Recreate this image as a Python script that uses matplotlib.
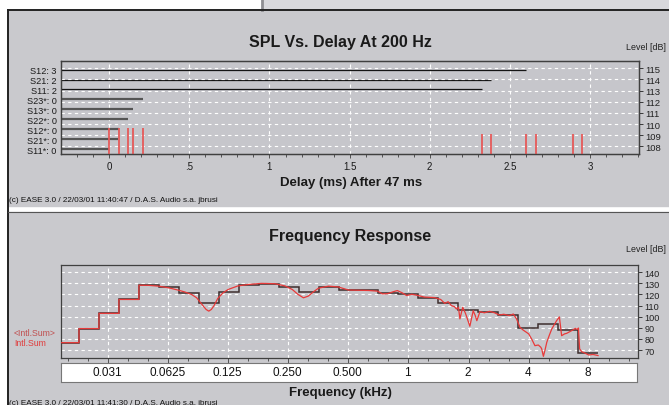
import numpy as np
import matplotlib.pyplot as plt
from matplotlib.patches import Rectangle
from matplotlib.lines import Line2D

plt.rcParams['font.family'] = ['Liberation Sans', 'DejaVu Sans']

W, H = 669, 406

# --- top chart: SPL vs delay at 200 Hz
row_labels = ["S11*: 0", "S21*: 0", "S12*: 0", "S22*: 0", "S13*: 0",
              "S23*: 0", "S11: 2", "S21: 2", "S12: 3"]
row_delay = [0.0, 0.056, 0.062, 0.12, 0.15, 0.208, 2.325, 2.383, 2.60]
arrival_delay = [0.0, 0.06, 0.12, 0.15, 0.208, 2.325, 2.383, 2.60, 2.662, 2.893, 2.951]
arrival_level = [109.6, 109.6, 109.6, 109.6, 109.6, 109.1, 109.1, 109.1, 109.1, 109.1, 109.1]
delay_ticks = [0, 0.5, 1, 1.5, 2, 2.5, 3]
delay_labels = ["0", ".5", "1", "1.5", "2", "2.5", "3"]
level_ticks = [108, 109, 110, 111, 112, 113, 114, 115]

# --- bottom chart: frequency response (kHz, dB)
band_edges = [0.0178, 0.0224, 0.0282, 0.0355, 0.0447, 0.0562, 0.0708, 0.0891,
              0.112, 0.141, 0.178, 0.224, 0.282, 0.355, 0.447, 0.562, 0.708,
              0.891, 1.122, 1.413, 1.778, 2.239, 2.818, 3.548, 4.467, 5.623,
              7.079, 8.913]
band_level = [76.6, 89.3, 103.0, 115.5, 128.3, 126.6, 121.0, 112.0, 122.5,
              128.3, 129.8, 126.7, 122.3, 127.0, 123.6, 124.0, 121.3, 120.1,
              117.0, 112.0, 105.8, 104.3, 101.5, 89.5, 93.7, 88.2, 67.3]
red_f = [0.0178, 0.0224, 0.0224, 0.0282, 0.0282, 0.0355, 0.0355, 0.0447, 0.0447,
         0.050, 0.056, 0.063, 0.070, 0.076, 0.082, 0.087, 0.092, 0.097, 0.100,
         0.103, 0.106, 0.111, 0.118, 0.125, 0.140, 0.158, 0.184, 0.214, 0.241,
         0.262, 0.280, 0.298, 0.315, 0.335, 0.354, 0.397, 0.445, 0.500, 0.560,
         0.630, 0.700, 0.740, 0.790, 0.840, 0.880, 0.930, 0.980, 1.04, 1.12,
         1.20, 1.35, 1.45, 1.52, 1.58, 1.64, 1.70, 1.74, 1.78, 1.81, 1.87,
         1.93, 1.96, 2.03, 2.11, 2.16, 2.20, 2.28, 2.40, 2.55, 2.70, 2.85,
         3.00, 3.20, 3.35, 3.48, 3.62, 3.75, 3.90, 4.00, 4.14, 4.30, 4.47,
         4.60, 4.65, 4.74, 4.83, 4.93, 5.08, 5.22, 5.40, 5.52, 5.70, 5.85,
         6.05, 6.20, 6.50, 6.70, 6.85, 6.98, 7.10, 7.20, 7.37, 7.60, 8.00,
         8.40, 8.90]
red_db = [76.6, 76.6, 89.3, 89.3, 103.0, 103.0, 115.5, 115.5, 128.3,
          128.2, 127.5, 126.0, 124.0, 122.2, 120.0, 117.0, 111.5, 106.5, 105.0,
          106.5, 109.6, 116.5, 121.5, 124.5, 127.7, 129.0, 130.0, 129.7, 127.7,
          124.5, 120.0, 117.0, 118.5, 122.5, 125.6, 127.5, 126.8, 124.0, 123.8,
          123.6, 123.0, 120.5, 120.8, 122.5, 123.5, 121.5, 119.0, 120.2, 119.0,
          117.7, 117.2, 115.5, 112.0, 113.5, 110.0, 109.0, 106.9, 108.5, 98.0, 108.5,
          103.0, 99.5, 91.4, 105.4, 101.0, 96.4, 104.5, 103.5, 104.8, 103.5, 101.5,
          102.2, 101.0, 102.4, 97.9, 90.4, 88.0, 85.9, 84.5, 79.9, 73.9, 74.5,
          72.5, 70.9, 64.3, 70.0, 77.0, 83.5, 88.9, 93.5, 96.4, 99.8, 82.9,
          84.5, 85.0, 87.0, 88.3, 89.5, 88.5, 89.8, 71.0, 68.5, 67.5, 65.5,
          66.0, 65.0]
oct_ticks = [0.03125, 0.0625, 0.125, 0.25, 0.5, 1, 2, 4, 8]
oct_labels = ["0.031", "0.0625", "0.125", "0.250", "0.500", "1", "2", "4", "8"]
db_ticks = [70, 80, 90, 100, 110, 120, 130, 140]

panel = '#c9c9cd'
plotbg = '#c6c6cb'
edge = '#404040'
grid_kw = dict(color='white', linestyle=(0, (3, 3)), linewidth=0.8)


def fx(px):
    return px / W


def fy(py):
    return 1 - py / H


def box(x0, y0, x1, y1):
    return [fx(x0), fy(y1), (x1 - x0) / W, (y1 - y0) / H]


fig = plt.figure(figsize=(W / 100, H / 100), dpi=100, facecolor='white')

# window chrome
fig.patches.append(Rectangle((fx(262), fy(11)), 1 - fx(262), 11 / H,
                             transform=fig.transFigure, color='#d8d8dc', zorder=-2))
fig.patches.append(Rectangle((fx(8), fy(207)), 1 - fx(8), 196 / H,
                             transform=fig.transFigure, color=panel, zorder=-2))
fig.patches.append(Rectangle((fx(8), 0), 1 - fx(8), fy(213),
                             transform=fig.transFigure, color=panel, zorder=-2))
for xs, ys, c, lw in [([fx(262), fx(262)], [fy(0), fy(11)], '#8e8e92', 2.0),
                      ([fx(8), fx(8)], [0, fy(11)], '#222222', 1.4),
                      ([fx(8), 1], [fy(11), fy(11)], '#222222', 1.4),
                      ([fx(8), 1], [fy(213), fy(213)], '#555555', 0.8)]:
    fig.lines.append(Line2D(xs, ys, transform=fig.transFigure, color=c, lw=lw, zorder=-1))

# ---------------- top chart
ax1 = fig.add_axes(box(61, 61.7, 639, 155))
ax1.set_facecolor(plotbg)
ax1.set_xlim(-0.301, 3.306)
ax1.set_ylim(-0.5, 8.9)
ax1.set_xticks(delay_ticks)
ax1.set_xticklabels(delay_labels, fontsize=7)
ax1.set_xticks(np.arange(-0.2, 3.31, 0.1), minor=True)
ax1.tick_params(axis='x', which='major', length=3, width=0.6, pad=2, colors=edge,
                labelcolor='#1a1a1a')
ax1.tick_params(axis='x', which='minor', length=2, width=0.6, colors=edge)
ax1.set_yticks(range(len(row_labels)))
ax1.set_yticklabels(row_labels, fontsize=6.6, color='#1a1a1a')
ax1.tick_params(axis='y', length=0, pad=3)
ax1.grid(axis='x', **grid_kw)
ax1.set_axisbelow(True)
x0 = ax1.get_xlim()[0]
for i, (lab, d) in enumerate(zip(row_labels, row_delay)):
    main = '*' not in lab
    ax1.hlines(i, x0, d, color='#151515' if main else '#555555',
               lw=0.9 if main else 1.6, zorder=3)
for s in ax1.spines.values():
    s.set_color(edge)
    s.set_linewidth(0.9)

ax2 = ax1.twinx()
ax2.set_ylim(107.31, 115.68)
ax2.set_yticks(level_ticks)
ax2.tick_params(axis='y', labelsize=6.8, length=3, width=0.6, pad=1.5, colors='#222222')
ax2.grid(axis='y', **grid_kw)
ax2.vlines(arrival_delay, ax2.get_ylim()[0], arrival_level, color='#e65a5a', lw=1.3)
for s in ax2.spines.values():
    s.set_color(edge)
    s.set_linewidth(0.9)

fig.text(fx(340), fy(43), "SPL Vs. Delay At 200 Hz", ha='center', va='center',
         fontsize=11.5, fontweight='bold', color='#1a1a1a')
fig.text(fx(646), fy(47), "Level [dB]", ha='center', va='center', fontsize=6.4, color='#222222')
fig.text(fx(351), fy(183), "Delay (ms) After 47 ms", ha='center', va='center',
         fontsize=9.5, fontweight='bold', color='#1a1a1a')
fig.text(fx(9), fy(200), "(c) EASE 3.0 / 22/03/01 11:40:47 / D.A.S. Audio s.a. jbrusi",
         ha='left', va='center', fontsize=5.9, color='#111111')

# ---------------- bottom chart
ax3 = fig.add_axes(box(61, 265.7, 638.3, 359))
ax3.set_facecolor(plotbg)
ax3.set_xscale('log', base=2)
ax3.set_xlim(0.0182, 14.16)
ax3.set_ylim(62.8, 146.8)
ax3.set_xticks(oct_ticks)
ax3.set_xticklabels([])
ax3.set_xticks([f * 2 ** (k / 3) for f in [0.015625] + oct_ticks for k in (1, 2)], minor=True)
ax3.xaxis.set_minor_formatter(plt.NullFormatter())
ax3.tick_params(axis='x', which='major', length=3.5, width=0.6, colors=edge)
ax3.tick_params(axis='x', which='minor', length=2, width=0.6, colors=edge)
ax3.yaxis.tick_right()
ax3.set_yticks(db_ticks)
ax3.tick_params(axis='y', labelsize=6.6, length=3, width=0.6, pad=1.5, colors='#222222')
ax3.grid(axis='both', which='major', **grid_kw)
ax3.set_axisbelow(True)
ax3.stairs(band_level, band_edges, baseline=None, color='#3e2e2e', lw=1.1, zorder=3)
ax3.plot(red_f, red_db, color='#e83a3a', lw=0.9, zorder=4)
for s in ax3.spines.values():
    s.set_color(edge)
    s.set_linewidth(0.9)

ax4 = fig.add_axes(box(61, 364, 637, 382.7))
ax4.set_facecolor('white')
ax4.set_xscale('log', base=2)
ax4.set_xlim(ax3.get_xlim())
ax4.set_xticks([])
ax4.set_yticks([])
ax4.minorticks_off()
for s in ax4.spines.values():
    s.set_color('#777777')
    s.set_linewidth(0.8)
for f, lab in zip(oct_ticks, oct_labels):
    ax4.text(f, 0.5, lab, transform=ax4.get_xaxis_transform(), ha='center',
             va='center', fontsize=8.5, color='#111111')

fig.text(fx(350), fy(237), "Frequency Response", ha='center', va='center',
         fontsize=11.5, fontweight='bold', color='#1a1a1a')
fig.text(fx(646), fy(250), "Level [dB]", ha='center', va='center', fontsize=6.4, color='#222222')
fig.text(fx(340), fy(393), "Frequency (kHz)", ha='center', va='center',
         fontsize=9.5, fontweight='bold', color='#1a1a1a')
fig.text(fx(14), fy(334), "<Intl.Sum>", ha='left', va='center', fontsize=6.3, color='#c05050')
fig.text(fx(14), fy(344), "Intl.Sum", ha='left', va='center', fontsize=6.3, color='#e03c3c')
fig.text(fx(9), fy(404), "(c) EASE 3.0 / 22/03/01 11:41:30 / D.A.S. Audio s.a. jbrusi",
         ha='left', va='center', fontsize=5.9, color='#111111')

fig.savefig('out.png', dpi=100, facecolor=fig.get_facecolor())
